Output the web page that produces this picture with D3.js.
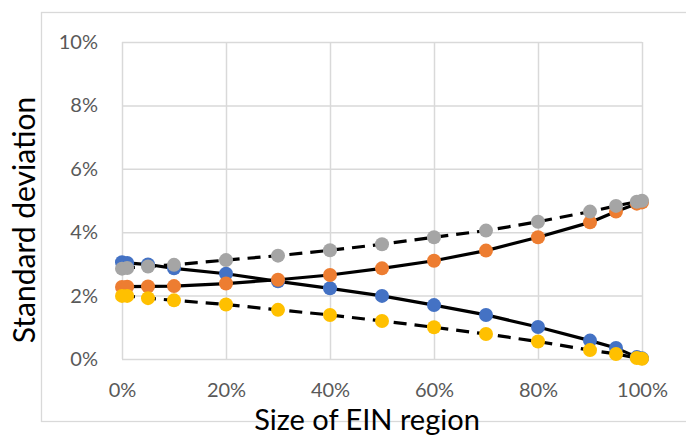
<!DOCTYPE html>
<html>
<head>
<meta charset="utf-8">
<script src="https://cdn.jsdelivr.net/npm/d3@7"></script>
<style>
  html, body { margin: 0; padding: 0; background: #fff; }
  svg { display: block; }
  text { font-family: Lato, "Open Sans", sans-serif; }
</style>
</head>
<body>
<svg id="chart" width="686" height="436"></svg>
<script>
// ---- data ----
const xValues = [0, 0.01, 0.05, 0.10, 0.20, 0.30, 0.40, 0.50, 0.60, 0.70, 0.80, 0.90, 0.95, 0.99, 1.00];
const seriesBlue   = [0.0305, 0.0303, 0.0298, 0.0286, 0.0269, 0.0245, 0.0223, 0.0199, 0.0170, 0.0139, 0.0101, 0.0058, 0.0035, 0.0006, 0.0002];
const seriesOrange = [0.0227, 0.0228, 0.0229, 0.0230, 0.0238, 0.0250, 0.0265, 0.0286, 0.0310, 0.0342, 0.0384, 0.0431, 0.0465, 0.0490, 0.0494];
const seriesGray   = [0.0285, 0.0287, 0.0292, 0.0297, 0.0312, 0.0326, 0.0343, 0.0362, 0.0384, 0.0405, 0.0433, 0.0465, 0.0483, 0.0496, 0.0499];
const seriesYellow = [0.0199, 0.0199, 0.0192, 0.0185, 0.0172, 0.0155, 0.0139, 0.0120, 0.0100, 0.0079, 0.0055, 0.0028, 0.0016, 0.0003, 0.0001];
const xTicks = [0, 0.2, 0.4, 0.6, 0.8, 1.0];
const yTicks = [0, 0.02, 0.04, 0.06, 0.08, 0.10];
const seriesList = [
  { name: "Series1", values: seriesBlue,   color: "#4472C4", dashed: false },
  { name: "Series2", values: seriesOrange, color: "#ED7D31", dashed: false },
  { name: "Series3", values: seriesGray,   color: "#A5A5A5", dashed: true },
  { name: "Series4", values: seriesYellow, color: "#FFC000", dashed: true }
];
const xTitle = "Size of EIN region";
const yTitle = "Standard deviation";

// ---- layout ----
const svg = d3.select("#chart");
const plot = { left: 122, right: 642, top: 42, bottom: 359 };

svg.append("rect")
  .attr("x", 41.5).attr("y", 12.5).attr("width", 700).attr("height", 409)
  .attr("fill", "#fff").attr("stroke", "#d9d9d9").attr("stroke-width", 1.3);

const x = d3.scaleLinear().domain([0, 1]).range([plot.left, plot.right]);
const y = d3.scaleLinear().domain([0, 0.10]).range([plot.bottom, plot.top]);
const fmt = d3.format(".0%");

// gridlines via axes
const gx = svg.append("g")
  .attr("transform", `translate(0,${plot.bottom})`)
  .call(d3.axisBottom(x).tickValues(xTicks).tickSize(-(plot.bottom - plot.top)).tickFormat(fmt).tickPadding(23));
const gy = svg.append("g")
  .attr("transform", `translate(${plot.left},0)`)
  .call(d3.axisLeft(y).tickValues(yTicks).tickSize(-(plot.right - plot.left)).tickFormat(fmt).tickPadding(24));

[gx, gy].forEach(g => {
  g.select(".domain").remove();
  g.selectAll(".tick line").attr("stroke", "#d9d9d9").attr("stroke-width", 1.5);
  g.selectAll(".tick text").attr("fill", "#595959").style("font-size", "20px")
    .style("font-family", "Lato, 'Open Sans', sans-serif");
});
gx.selectAll(".tick text").attr("dy", "0.73em");

// lines
const line = d3.line().x((d, i) => x(xValues[i])).y(d => y(d));
svg.append("g").selectAll("path")
  .data(seriesList)
  .join("path")
  .attr("d", s => line(s.values))
  .attr("fill", "none")
  .attr("stroke", "#000")
  .attr("stroke-width", 3.2)
  .attr("stroke-dasharray", s => s.dashed ? "13,8" : null);

// markers
seriesList.forEach(s => {
  svg.append("g").selectAll("circle")
    .data(s.values)
    .join("circle")
    .attr("cx", (d, i) => x(xValues[i]))
    .attr("cy", d => y(d))
    .attr("r", 7)
    .attr("fill", s.color);
});

// titles
svg.append("text")
  .attr("x", 367).attr("y", 430)
  .attr("text-anchor", "middle")
  .attr("fill", "#000")
  .style("font-size", "29px")
  .text(xTitle);

svg.append("text")
  .attr("transform", "translate(35,220) rotate(-90)")
  .attr("text-anchor", "middle")
  .attr("fill", "#000")
  .style("font-size", "30px")
  .text(yTitle);
</script>
</body>
</html>
